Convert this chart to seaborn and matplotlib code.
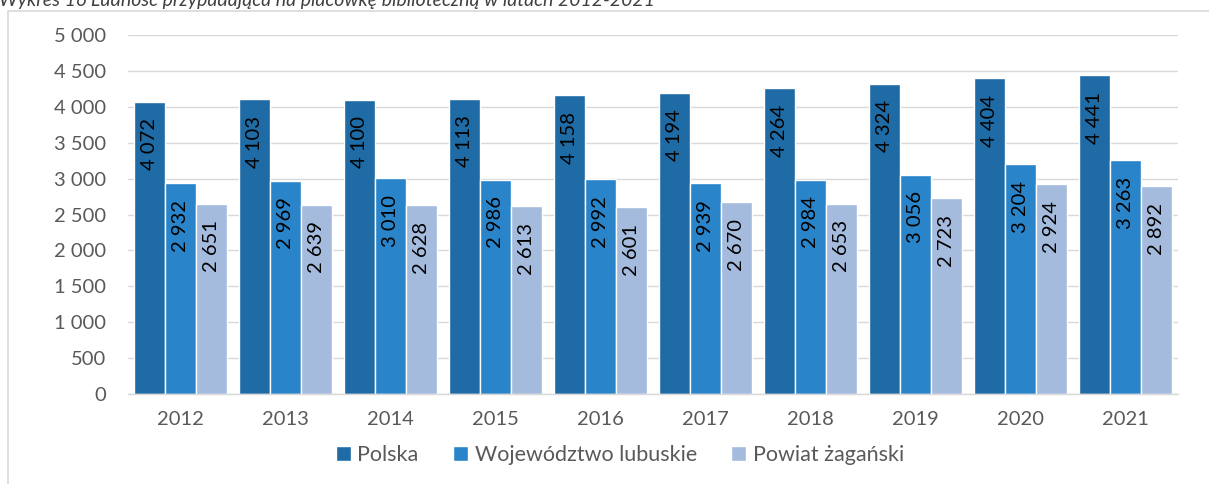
import pandas as pd
import seaborn as sns
import matplotlib.pyplot as plt
from matplotlib.patches import Rectangle

# Data
years = ["2012", "2013", "2014", "2015", "2016", "2017", "2018", "2019", "2020", "2021"]
polska = [4072, 4103, 4100, 4113, 4158, 4194, 4264, 4324, 4404, 4441]
lubuskie = [2932, 2969, 3010, 2986, 2992, 2939, 2984, 3056, 3204, 3263]
zaganski = [2651, 2639, 2628, 2613, 2601, 2670, 2653, 2723, 2924, 2892]
series_names = ["Polska", "Województwo lubuskie", "Powiat żagański"]
colors = ["#1f6ba5", "#2a84c9", "#a4bbdd"]
y_ticks = [0, 500, 1000, 1500, 2000, 2500, 3000, 3500, 4000, 4500, 5000]
title = "Wykres 16 Ludność przypadająca na placówkę biblioteczną w latach 2012-2021"

df = pd.DataFrame({
    "rok": years * 3,
    "wartosc": polska + lubuskie + zaganski,
    "seria": [series_names[0]] * 10 + [series_names[1]] * 10 + [series_names[2]] * 10,
})

sns.set_style("white")
plt.rcParams["font.family"] = ["Lato", "DejaVu Sans"]

fig = plt.figure(figsize=(12.09, 4.84), dpi=100)
ax = fig.add_axes([128 / 1209, 1 - 394 / 484, 1050 / 1209, 359 / 484])

sns.barplot(data=df, x="rok", y="wartosc", hue="seria", palette=colors,
            saturation=1, width=0.885, ax=ax, legend=True)

ax.set_xlim(-0.5, 9.5)
ax.set_ylim(0, 5000)
ax.set_yticks(y_ticks)
ax.set_yticklabels([f"{t:,}".replace(",", " ") for t in y_ticks])
ax.grid(axis="y", color="#d9d9d9", linewidth=1)
ax.set_axisbelow(True)
for s in ["top", "right", "left"]:
    ax.spines[s].set_visible(False)
ax.spines["bottom"].set_color("#d9d9d9")
ax.spines["bottom"].set_linewidth(1)
ax.tick_params(axis="both", length=0, labelsize=14.5, labelcolor="#595959")
ax.tick_params(axis="y", pad=16)
ax.tick_params(axis="x", pad=12)
ax.set_xlabel("")
ax.set_ylabel("")

# data labels inside the bar tops, rotated
for cont in ax.containers:
    for bar, v in zip(cont, cont.datavalues):
        ax.annotate(f"{int(v):,}".replace(",", " "),
                    xy=(bar.get_x() + bar.get_width() / 2, bar.get_height()),
                    xytext=(0, -12), textcoords="offset points",
                    rotation=90, ha="center", va="top",
                    fontsize=14.5, color="black")

ax.legend(loc="center", bbox_to_anchor=(620 / 1209, 1 - 455 / 484),
          bbox_transform=fig.transFigure, ncol=3, frameon=False,
          fontsize=15.5, labelcolor="#595959", handlelength=0.7,
          handleheight=0.7, handletextpad=0.3, columnspacing=1.6)

# cut-off caption and chart frame
fig.text(-0.001, 1 - 6 / 484, title, fontsize=14, style="italic",
         color="#404040", ha="left", va="baseline")
fig.add_artist(Rectangle((8 / 1209, -0.1), 1.2, 1 - 11 / 484 + 0.1,
                         transform=fig.transFigure, fill=False,
                         edgecolor="#d9d9d9", linewidth=1.2, clip_on=False))

fig.savefig("out.png", dpi=100)
